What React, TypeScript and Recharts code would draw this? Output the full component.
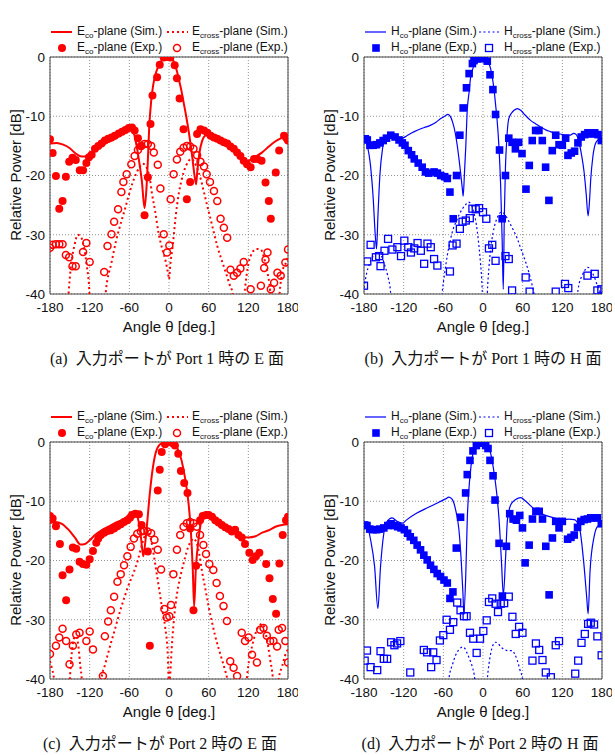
import {
  CartesianGrid,
  ComposedChart,
  Line,
  ReferenceArea,
  Scatter,
  XAxis,
  YAxis,
} from "recharts";

type Pt = [number, number];

const ANGLE_TICKS = [-180, -120, -60, 0, 60, 120, 180];
const DB_TICKS = [-40, -30, -20, -10, 0];

const RED = "#ff0000";
const BLUE = "#0000ff";
const SANS = "'Liberation Sans', Arial, sans-serif";
const SERIF = "'Liberation Serif', 'Noto Sans CJK JP', serif";

// ---- Port 1, E-plane ----
const aCoSim: Pt[] = [
  [-180, -14.6], [-170, -14.5], [-160, -14.8], [-150, -15.4], [-140, -16.4], [-132, -16.8],
  [-124, -16.7], [-117, -16.1], [-110, -15.5], [-102, -15], [-95, -14.5], [-87, -14.1],
  [-79, -13.6], [-71, -13], [-64, -12.3], [-59, -12], [-54, -12.6], [-49, -15], [-44, -18.5],
  [-41, -21], [-37, -25.5], [-34, -22], [-32, -17.5], [-30, -12], [-27, -7.5], [-24, -4.8],
  [-21, -3.2], [-17, -1.8], [-13, -0.9], [-8, -0.2], [-4, 0], [0, 0], [4, -0.2], [8, -1],
  [12, -2.4], [15, -3.8], [19, -5.8], [22, -7.6], [26, -10], [30, -12.7], [35, -16.7],
  [38, -19.5], [41, -21.5], [43, -19], [46, -16.2], [50, -14.2], [55, -13.2], [60, -13],
  [70, -13.5], [80, -14.2], [90, -15], [100, -16], [108, -16.8], [116, -17.5], [122, -17.4],
  [130, -16.9], [141, -16.1], [150, -15.2], [160, -14.3], [170, -13.7], [180, -13.3],
];
const aCrossSim: Pt[] = [
  [-155, -45], [-152, -40], [-148, -35], [-143, -31.8], [-138, -30], [-133, -30.4], [-128, -32.5],
  [-124, -35.5], [-121, -38.5], [-118, -45],
  [-100, -45], [-95, -39], [-87, -34.7], [-80, -31], [-74, -28.5], [-67, -25.8], [-61, -23.4],
  [-55, -21.2], [-49, -19.5], [-44, -18.5], [-40, -18], [-36, -18.2], [-33, -18.9], [-29, -20.5],
  [-26, -22.9], [-21, -26], [-16, -29.6], [-10, -32.5], [-5, -34.5], [-1, -36.8], [0, -37.5],
  [2, -35], [5.6, -31.9], [10, -27], [15, -22.9], [19, -20.8], [22, -19.5], [26, -18.3],
  [30, -17.5], [34, -17.2], [37, -17.5], [41, -18.3], [45, -19.5], [49, -21], [53, -22.9],
  [58, -25.2], [63, -27.4], [68, -29.7], [73, -31.9], [80, -34.4], [86, -36.4], [92, -38.5],
  [96, -39.8], [100, -45],
  [110, -45], [115, -39], [120, -35], [126, -33], [132, -32.4], [139, -32.5], [144, -34],
  [149, -36.4], [153, -39.5], [156, -45],
  [164, -45], [168, -39], [172, -36], [177, -34.7], [180, -33.6],
];
const aCoExp: Pt[] = [
  [-180, -13.9], [-176, -16.2], [-171, -20.1], [-166, -25.6], [-161, -24.3], [-156, -20.2],
  [-151, -17.7], [-146, -17], [-141, -17.4], [-135, -19.1], [-130, -19.1], [-125, -17.9],
  [-121, -16.9], [-117, -16.5], [-112, -15.5], [-107, -15], [-102, -14.6], [-97, -14.1],
  [-92, -13.8], [-87, -13.6], [-82, -13.3], [-76, -12.9], [-71, -12.6], [-66, -12.3],
  [-61, -12], [-56, -11.9], [-52, -12.4], [-47, -13.7], [-42.5, -15], [-37, -26.7],
  [-32, -20.3], [-28, -11.3], [-25, -6.5], [-18, -3.4], [-14, -1.3], [-8, -0.1], [-3, 0],
  [2, -0.1], [8.6, -1.4], [12, -3.6], [16, -7], [22, -12.2], [27, -24], [32, -21.1],
  [42.5, -13], [47.6, -12.2], [53, -12.4], [58, -12.8], [63, -13.3], [68, -13.6], [73, -13.8],
  [78, -14.1], [83, -14.4], [88, -14.6], [93, -15.1], [98, -15.5], [103, -16.1], [108, -16.7],
  [113, -17.5], [118, -18.1], [123.5, -18.6], [128.6, -17.2], [133.7, -17.2], [140, -17.5],
  [146, -21.2], [151, -24.3], [154, -27.3], [161.5, -19.5], [166.6, -15.8], [174, -13.3],
  [178, -13.7], [180, -14.1],
];
const aCrossExp: Pt[] = [
  [-180, -32.2], [-176, -31.7], [-171, -31.6], [-166, -31.6], [-161, -31.6], [-156, -33.4],
  [-151, -33.8], [-146, -35.3], [-141, -35.3], [-130, -32.9], [-125, -31.4], [-120, -34.6],
  [-98, -36.3], [-93, -31.9], [-87, -29.9], [-83, -27.8], [-77, -25.7], [-72, -22.8],
  [-69, -21.1], [-64, -19.8], [-57, -18.1], [-52, -16.7], [-47, -15.7], [-42, -15],
  [-37, -14.7], [-32, -14.7], [-27, -15], [-23, -16.1], [-17, -18.2], [-13, -22.2],
  [-8, -29.9], [-3, -33], [0.5, -31.8], [2.5, -24], [7, -19.8], [12, -17.3], [17, -16],
  [22, -15.3], [27, -15], [32, -15.1], [37, -15.5], [42.5, -16.6], [47.6, -17.7], [53, -18.5],
  [57, -19.8], [62, -21.1], [68, -22.6], [73, -24.3], [78, -27.3], [83, -28.8], [88, -30.5],
  [93, -35.9], [98, -36.9], [103, -36.4], [108, -35.7], [113, -34.6], [123.5, -39.2],
  [139, -38.6], [144, -35.6], [146, -34.2], [149, -33], [154, -39.2], [159, -38.1],
  [164, -36.4], [169, -36.9], [176, -34.7], [180, -32.5],
];

// ---- Port 1, H-plane ----
const bCoSim: Pt[] = [
  [-180, -13.8], [-175, -15], [-170, -18.5], [-166, -24], [-163, -30], [-161, -32.4],
  [-159, -27], [-156, -20], [-152, -15.5], [-148, -13.8], [-142, -13.2], [-135, -13.5],
  [-128, -13.8], [-120, -13.6], [-114, -13.2], [-104, -12.6], [-94, -12.1], [-86, -11.8],
  [-79, -11.5], [-71, -11], [-64, -10.4], [-58, -10], [-53, -9.7], [-49, -10.1], [-46, -11],
  [-42, -12.8], [-39, -14.9], [-36, -17.5], [-34, -19.4], [-31, -22.5], [-30, -23.5],
  [-28, -19.5], [-26, -15], [-24, -9.3], [-21, -5.9], [-19, -3.7], [-16, -2.2], [-13, -1.2],
  [-9, -0.5], [-5, -0.2], [0, -0.1], [4, -0.3], [8, -0.9], [11.6, -2], [14, -3.4],
  [16.6, -5.4], [19, -8], [21, -10.2], [24, -14.9], [26.7, -21.7], [29, -31], [30.7, -39.2],
  [32.2, -27], [34, -18.5], [36, -13.8], [39, -10.4], [43, -9.5], [47, -9], [52, -8.7],
  [57, -9], [62, -9.6], [72, -10.7], [80, -11.3], [87, -11.8], [95, -12.3], [102, -12.6],
  [110, -12.9], [117, -13], [125, -13.2], [132, -13.2], [137, -12.9], [141, -13.1],
  [145, -14.3], [149, -16.5], [153, -19.5], [156, -23], [159, -26.8], [161, -24.5],
  [163, -20.6], [166, -17], [168, -15.5], [173, -14.1], [180, -13.8],
];
const bCrossSim: Pt[] = [
  [-180, -39], [-176, -36.5], [-172, -35], [-166, -33.5], [-160, -33], [-154, -33.5],
  [-149, -35], [-144, -37], [-140, -39.5], [-137, -45],
  [-66, -45], [-62, -40], [-58, -36.5], [-54, -33.5], [-49, -30.7], [-45, -29], [-41, -27.9],
  [-36, -26.6], [-31, -25.6], [-26, -24.9], [-22, -24.5], [-18, -24.9], [-14, -26.2],
  [-10, -28.3], [-7, -31], [-4, -34.5], [-2, -37.5], [-1, -40], [0, -45],
  [5, -45], [6.5, -40], [9, -35.5], [11.6, -32.4], [15, -29.8], [19, -27.9], [23, -26.8],
  [27, -26.2], [32, -26.4], [37, -27.3], [44, -28.8], [52, -30.7], [58, -32.6], [64.5, -34.6],
  [70, -36.6], [74.5, -38.6], [77, -40], [79, -45],
  [140, -45], [143, -40], [146, -38], [150, -36.9], [154, -36], [158, -35.5], [162, -35.7],
  [165, -36.3], [169, -37.3], [173, -38.6], [178, -40], [180, -41],
];
const bCoExp: Pt[] = [
  [-178, -13.8], [-175, -14], [-171, -14.9], [-166, -14.9], [-161, -14.8], [-156, -14.5],
  [-151, -14.1], [-146, -13.7], [-139.5, -13.2], [-133, -13.5], [-127, -14], [-122, -14.5],
  [-118, -14.9], [-113, -15.8], [-108, -16.5], [-104, -17.2], [-98, -17.9], [-92, -18.6],
  [-87, -19.4], [-82, -19.6], [-74, -19.4], [-69, -19.6], [-64, -20], [-58, -20.2],
  [-54, -20.5], [-50, -22.8], [-45, -27.3], [-40, -20], [-35, -13.2], [-30, -8.6],
  [-25, -5.2], [-21, -2.8], [-16, -1.1], [-13.6, -0.6], [-8.6, -0.3], [-3.5, -0.3],
  [1.5, -0.2], [6.5, -0.7], [10.6, -3], [15, -5.5], [19, -9.7], [25, -15.7], [29, -27.3],
  [34, -20], [39, -13.7], [44, -14.4], [49, -15.5], [54, -14.4], [59, -16.3], [65, -22.3],
  [70, -18.3], [74.5, -14.1], [79.6, -12.4], [84.6, -12.4], [89.7, -14.1], [94.7, -18.6],
  [99.7, -24.2], [104.8, -15.8], [110, -13.2], [115, -14.8], [120, -14.9], [125, -13.7],
  [128.5, -16.6], [133.5, -16.2], [138.5, -15.9], [143.6, -14.5], [148.6, -13.5],
  [153.7, -13.1], [158.7, -12.8], [163.7, -13], [169, -12.8], [174, -13.1], [179, -14.1],
];
const bCrossExp: Pt[] = [
  [-180, -38.6], [-175, -34.5], [-170, -31.7], [-162, -33.8], [-157, -33.6], [-155, -35.3],
  [-149, -32.7], [-143.6, -30.7], [-137, -32.5], [-129.5, -32.1], [-124, -33.6], [-119, -31],
  [-113, -32.1], [-109, -33], [-104, -32.3], [-99, -31.4], [-94, -32.7], [-89, -34.9],
  [-84, -31.5], [-79, -32.1], [-74, -34.1], [-69, -35.2], [-50, -36.2], [-46, -31.8],
  [-40, -31.5], [-35, -29], [-31, -27.8], [-26, -27.6], [-20, -27.2], [-16, -25.6],
  [-11, -25.7], [-6, -25.5], [0, -26.2], [5, -27.3], [9, -32.3], [14, -31.7], [19, -34.4],
  [34, -33.6], [39, -34.1], [44, -39.4], [64.5, -37.2], [70.5, -39.6], [110, -39.6],
  [124, -38.3], [129, -39], [158, -36.9], [169, -36.6], [173, -39.4], [179, -39.2],
];

// ---- Port 2, E-plane ----
const cCoSim: Pt[] = [
  [-180, -13.7], [-172, -13.5], [-162, -13.8], [-152, -14.8], [-142, -16.2], [-134, -17.3],
  [-127, -17.2], [-120, -16.6], [-112, -15.7], [-102, -14.9], [-92, -14.3], [-82, -13.7],
  [-72, -13.2], [-62, -12.6], [-54, -12.2], [-49, -12.4], [-45, -14], [-42, -16.5],
  [-39, -19.3], [-37, -18], [-34, -14.9], [-30, -9.8], [-25, -4.8], [-19, -1.4], [-11, -0.2],
  [-4, 0], [4, 0], [11.6, -0.8], [19, -3.1], [24, -5.9], [29, -9.8], [33, -14.9], [36, -21.6],
  [38, -27.8], [40.5, -21.6], [44.6, -16.5], [48.6, -13.5], [53.7, -12.3], [60, -12.3],
  [70, -12.9], [80, -13.7], [90, -14.6], [100, -15.4], [110, -16], [120, -16.1], [131, -15.9],
  [141, -15.3], [151, -14.9], [161, -14.3], [171, -14], [180, -13.9],
];
const cCrossSim: Pt[] = [
  [-180, -37], [-177, -38.3], [-174, -40], [-172, -45],
  [-153, -45], [-150, -40], [-147, -35.5], [-143, -33], [-140, -32.8], [-137, -34.5],
  [-134, -38], [-132, -40], [-130, -45],
  [-106, -45], [-102, -39.8], [-97, -37.7], [-92, -35.6], [-87, -33.6], [-82, -31.7],
  [-77, -29.7], [-72, -27.8], [-67, -26.1], [-62, -24.4], [-54, -22.2], [-47, -19.9],
  [-41, -17.3], [-36, -15.7], [-32.4, -15.1], [-29, -15.8], [-26, -17.1], [-21, -20.5],
  [-14, -25.5], [-10, -28.4], [-6, -31.1], [-2, -35.6], [0, -41], [2, -39], [4, -35],
  [6.6, -31.1], [10, -27.3], [14, -24.4], [18, -22.3], [22, -20.5], [26, -18.8], [29, -17.7],
  [33, -16.8], [37, -16.3], [40, -16.6], [42, -17.1], [46, -19], [49.6, -21.6], [55, -24.8],
  [60, -27.8], [65, -30.4], [70, -32.8], [75, -34.8], [80, -36.7], [85, -38.6], [87.6, -39.8],
  [90, -45],
  [115, -45], [118, -39.8], [121, -37], [125.6, -34.5], [130, -32.6], [135.7, -31.1],
  [141, -30.7], [146, -32.2], [150, -34.5], [153, -36.7], [157, -39.8], [160, -45],
  [164, -45], [166, -40], [171, -37.9], [177, -35.6], [180, -35],
];
const cCoExp: Pt[] = [
  [-180, -12.5], [-176, -12.9], [-171, -14.2], [-165, -17.2], [-161, -22.5], [-155.6, -26.7],
  [-150.5, -21.5], [-145.4, -17.8], [-140.3, -18], [-135.3, -20.2], [-130.2, -20.6],
  [-125, -20.7], [-120, -19.8], [-115, -18.4], [-110, -17], [-107, -16.3], [-103, -15.7],
  [-98, -15.3], [-93, -15], [-88, -14.9], [-83, -14.6], [-78, -14.2], [-73, -13.9],
  [-68, -13.5], [-63, -13.2], [-59, -12.8], [-56, -12.3], [-51, -12.1], [-45.6, -12.2],
  [-41.5, -14], [-32, -18.5], [-29, -34.4], [-17, -8.2], [-14, -4.7], [-11, -1.7], [-6, -0.4],
  [0, 0], [5.6, -0.2], [9, -0.6], [14, -2], [18, -4.9], [23, -6.9], [28, -8.6], [32, -14.6],
  [37, -28.4], [41, -20.9], [47, -13.2], [51, -12.5], [56, -12.3], [60, -12.3], [65, -12.6],
  [70, -13.2], [75, -13.6], [80, -14], [85, -14.4], [90, -14.7], [95, -15.1], [100, -14.8],
  [105, -15.7], [110, -16.1], [115, -17.2], [121.5, -18.7], [126.6, -19.9], [131.6, -19.3],
  [136.7, -18.7], [147, -20.6], [152, -23], [157, -26.5], [162, -29], [167, -20.5],
  [172, -15.7], [177, -13.2], [180, -12.6],
];
const cCrossExp: Pt[] = [
  [-180, -35.8], [-171, -34.4], [-166, -33], [-161, -31.5], [-155.6, -33.6], [-150.5, -37.5],
  [-145.4, -34.4], [-140.3, -32.5], [-135.3, -32.2], [-125, -33.6], [-120, -32], [-115, -35],
  [-100, -39.5], [-97, -32.8], [-92, -30.3], [-88, -28.4], [-83, -26.1], [-78, -23.6],
  [-73, -22.3], [-68, -20.8], [-63, -19.3], [-58, -17.7], [-53, -16.3], [-48, -15.5],
  [-42.5, -15.1], [-37.5, -15], [-32.4, -15.1], [-27, -15.4], [-22, -16.5], [-17, -18.2],
  [-12, -21.5], [-7, -28.2], [-3.5, -29.6], [0.5, -29.4], [3, -27.5], [6.6, -22.3],
  [12, -18.2], [17, -15.7], [22, -14.3], [27, -13.7], [32, -13.5], [37, -13.7], [42, -14.3],
  [47, -15.7], [52, -17.4], [56, -18.9], [61, -20.6], [67, -21.6], [72, -23.8], [77, -26],
  [82.5, -27.7], [87.6, -30.2], [92.6, -37], [97.7, -38.1], [103, -39.5], [110, -32.2],
  [115, -33.6], [120.5, -33], [125.6, -35.9], [133, -37.2], [138, -31.7], [143, -31.4],
  [148, -32.7], [153, -33.6], [158, -33.6], [163.5, -34.5], [166, -31.7], [171, -31.4],
  [176, -33.6], [180, -37.2],
];

// ---- Port 2, H-plane ----
const dCoSim: Pt[] = [
  [-180, -13.7], [-175.5, -14.1], [-170, -16.5], [-164, -21], [-159, -28.1], [-155, -21],
  [-150, -15.4], [-145, -13.4], [-137.5, -12.8], [-130, -13.4], [-122, -13.7], [-115, -13.1],
  [-100, -12], [-84, -11.1], [-69, -10.3], [-56.6, -9.6], [-51.6, -9.3], [-46.5, -9.7],
  [-41.5, -11.4], [-36.4, -14.8], [-33, -19.9], [-30.3, -25.6], [-29, -29], [-26, -22.2],
  [-23.8, -13.1], [-19.7, -5.8], [-16, -2.4], [-11, -0.7], [-6, -0.2], [0, -0.1], [5.6, -0.4],
  [10.6, -1.5], [15.7, -4.4], [20.7, -8.6], [24.3, -13.1], [27.8, -19.9], [30.8, -25.8],
  [34, -19.9], [37, -13.1], [42, -10.6], [49.5, -9.7], [57, -9.4], [64.7, -10], [77.4, -11.3],
  [92.5, -12.3], [107.7, -12.8], [123, -13.1], [130, -13], [138, -13.1], [145.6, -14.3],
  [152, -19.9], [157, -26.4], [159, -29], [162, -21.6], [168, -16], [173, -14.3], [180, -13.8],
];
const dCrossSim: Pt[] = [
  [-55, -45], [-51.6, -40], [-46, -37.5], [-41.5, -36], [-36, -35], [-31, -34.6], [-27, -34.9],
  [-23.8, -35.7], [-19, -37], [-16, -38], [-12.6, -40], [-10, -45],
  [4, -45], [6.6, -40], [9, -37.5], [11.6, -35.7], [15, -34.3], [19, -33.8], [23, -34],
  [27, -34.6], [32, -35], [37, -35.2], [44.5, -35.2], [48, -35.8], [52, -36.9], [56, -38.5],
  [59.7, -40], [62, -45],
];
const dCoExp: Pt[] = [
  [-179, -14], [-175.5, -14.1], [-171.4, -14.7], [-166.3, -14.8], [-161, -14.8], [-156, -14.7],
  [-150, -14.5], [-144, -14.1], [-139, -13.8], [-134, -14.1], [-129, -14.3], [-124, -14.5],
  [-119, -14.8], [-114, -15.4], [-110, -16], [-104.7, -16.6], [-99.6, -17.4], [-94.5, -18.2],
  [-89.5, -19.1], [-84.4, -19.9], [-79.4, -20.8], [-74.3, -21.5], [-69.3, -22.2],
  [-64.2, -22.7], [-59, -23.3], [-54, -23.8], [-50, -26.4], [-45.5, -25.3], [-40.4, -17.9],
  [-33.9, -12.7], [-26.3, -8.6], [-23.8, -5.5], [-19.7, -3.1], [-15.2, -1.5], [-10, -0.6],
  [-5, -0.2], [0, -0.1], [4, -0.6], [7.6, -1.1], [10.6, -3.1], [15.2, -5.7], [18.2, -9.8],
  [24.3, -17.1], [29.3, -26], [35.4, -17.6], [40.4, -12.1], [45.5, -13], [50.6, -13.2],
  [55.6, -12.4], [59.7, -14.5], [63.7, -20.4], [69.8, -17.4], [74.8, -13], [80, -11.7],
  [85, -11.7], [90, -13], [95, -17.6], [100, -25.8], [105, -16.2], [110, -13.4], [115, -14.5],
  [120, -13.4], [128, -16.4], [133, -16.1], [138, -15.7], [143, -14.4], [148, -13.4],
  [153, -13.1], [158, -13], [163, -12.8], [168, -12.8], [173, -12.8], [179, -13.8],
];
const dCrossExp: Pt[] = [
  [-179, -36.9], [-175.5, -35.2], [-170, -38], [-160, -38.5], [-155, -35.3], [-150, -36.6],
  [-145, -36.6], [-139, -33.8], [-134, -34.3], [-130, -34], [-125, -33.6], [-110, -38.9],
  [-89.5, -35.1], [-84.4, -35.5], [-78.4, -38], [-75.3, -35.5], [-70.3, -36.8],
  [-65.2, -33.5], [-60, -32.6], [-55, -30], [-50, -31.7], [-45, -30.4], [-39, -27.1],
  [-34, -28.4], [-28.8, -29.4], [-24.8, -29.4], [-19.7, -32.2], [-14.7, -33.2], [-9.6, -35.6],
  [-4.5, -33.2], [0.5, -31.9], [5.6, -30.1], [9, -27], [14, -26.4], [19, -27.3], [22.7, -28.7],
  [26.8, -27.3], [32, -27.2], [39, -26.1], [44.5, -29.5], [49.5, -32.4], [54.6, -31.2],
  [59.7, -32.2], [74.8, -36.9], [80, -34], [85, -35.1], [90, -36.8], [95, -38.9],
  [102.6, -39.7], [110, -34.3], [115, -33.6], [139.5, -39.1], [144, -36.9], [149, -33.9],
  [154, -32.4], [159, -30.7], [163, -30.5], [168, -30.8], [173, -32.8], [179.5, -36],
];

const toRows = (pts: Pt[]) => pts.map(([a, v]) => ({ a, v }));

type Kind = "circle" | "square";

function markerShape(kind: Kind, filled: boolean, color: string) {
  return (p: any) => {
    const { cx, cy } = p;
    if (cx == null || cy == null) return <g />;
    if (kind === "circle") {
      return filled ? (
        <circle cx={cx} cy={cy} r={4} fill={color} />
      ) : (
        <circle cx={cx} cy={cy} r={3.5} fill="none" stroke={color} strokeWidth={1.5} />
      );
    }
    const s = filled ? 7.6 : 7;
    return filled ? (
      <rect x={cx - s / 2} y={cy - s / 2} width={s} height={s} fill={color} />
    ) : (
      <rect x={cx - s / 2} y={cy - s / 2} width={s} height={s} fill="none" stroke={color} strokeWidth={1.3} />
    );
  };
}

function Sample({ color, width, dash }: { color: string; width?: number; dash?: string }) {
  return (
    <svg width={22} height={10} style={{ display: "block" }}>
      <line x1={0} x2={21} y1={5} y2={5} stroke={color} strokeWidth={width} strokeDasharray={dash} />
    </svg>
  );
}

function Mark({ kind, filled, color }: { kind: Kind; filled: boolean; color: string }) {
  const shape = markerShape(kind, filled, color);
  return (
    <svg width={10} height={10} style={{ display: "block" }}>
      {shape({ cx: 5, cy: 5 })}
    </svg>
  );
}

function Name({ p, sub, tail }: { p: string; sub: string; tail: string }) {
  return (
    <span>
      {p}
      <span style={{ fontSize: 8, position: "relative", top: 3 }}>{sub}</span>
      {tail}
    </span>
  );
}

interface PanelProps {
  left: number; // plot area left edge
  top: number; // plot area top edge
  color: string;
  kind: Kind;
  plane: string;
  lineWidth: number;
  dash: string;
  col2: number;
  captionX: number;
  caption: string;
  coSim: Pt[];
  crossSim: Pt[];
  coExp: Pt[];
  crossExp: Pt[];
}

const PW = 238;
const PH = 237;

function Panel(props: PanelProps) {
  const { left, top, color, kind, plane, lineWidth, dash, col2, captionX, caption } = props;
  const text = { position: "absolute" as const, fontFamily: SANS, fontSize: 12, color: "#111", whiteSpace: "nowrap" as const, lineHeight: "14px" };
  const row1 = top - 25.5;
  const row2 = top - 9.5;
  const at = (x: number, y: number) => ({ position: "absolute" as const, left: x, top: y, transform: "translateY(-50%)" });

  return (
    <>
      {/* legend */}
      <div style={at(left + 1, row1)}>
        <Sample color={color} width={lineWidth} />
      </div>
      <div style={{ ...text, ...at(left + 27, row1) }}>
        <Name p={plane} sub="co" tail="-plane (Sim.)" />
      </div>
      <div style={at(left + col2 - 25, row1)}>
        <Sample color={color} width={lineWidth} dash={dash} />
      </div>
      <div style={{ ...text, ...at(left + col2, row1) }}>
        <Name p={plane} sub="cross" tail="-plane (Sim.)" />
      </div>
      <div style={at(left + 7, row2)}>
        <Mark kind={kind} filled color={color} />
      </div>
      <div style={{ ...text, ...at(left + 27, row2) }}>
        <Name p={plane} sub="co" tail="-plane (Exp.)" />
      </div>
      <div style={at(left + col2 - 20, row2)}>
        <Mark kind={kind} filled={false} color={color} />
      </div>
      <div style={{ ...text, ...at(left + col2, row2) }}>
        <Name p={plane} sub="cross" tail="-plane (Exp.)" />
      </div>

      <div style={{ position: "absolute", left: left - 50, top: top - 10 }}>
        <ComposedChart width={50 + PW + 10} height={10 + PH + 30} margin={{ top: 10, right: 10, left: 0, bottom: 0 }}>
          <CartesianGrid stroke="#777" strokeDasharray="1 2" strokeWidth={0.8} />
          <XAxis
            type="number"
            dataKey="a"
            domain={[-180, 180]}
            ticks={ANGLE_TICKS}
            interval={0}
            allowDataOverflow
            axisLine={false}
            tickLine={false}
            tickSize={0}
            tickMargin={8}
            height={30}
            tick={{ fontSize: 13.5, fill: "#111", fontFamily: SANS }}
          />
          <YAxis
            type="number"
            dataKey="v"
            domain={[-40, 0]}
            ticks={DB_TICKS}
            interval={0}
            allowDataOverflow
            axisLine={false}
            tickLine={false}
            tickSize={0}
            tickMargin={5}
            width={50}
            tick={{ fontSize: 13.5, fill: "#111", fontFamily: SANS }}
          />
          <ReferenceArea x1={-180} x2={180} y1={-40} y2={0} fill="none" fillOpacity={0} stroke="#444" strokeWidth={1} />
          <Line
            data={toRows(props.crossSim)}
            dataKey="v"
            type="monotone"
            stroke={color}
            strokeWidth={lineWidth}
            strokeDasharray={dash}
            dot={false}
            isAnimationActive={false}
          />
          <Line
            data={toRows(props.coSim)}
            dataKey="v"
            type="monotone"
            stroke={color}
            strokeWidth={lineWidth}
            dot={false}
            isAnimationActive={false}
          />
          <Scatter data={toRows(props.crossExp)} shape={markerShape(kind, false, color)} isAnimationActive={false} />
          <Scatter data={toRows(props.coExp)} shape={markerShape(kind, true, color)} isAnimationActive={false} />
        </ComposedChart>
      </div>

      {/* axis titles and caption */}
      <div
        style={{
          position: "absolute",
          left: left - 35,
          top: top + PH / 2 - 1,
          transform: "translate(-50%, -50%) rotate(-90deg)",
          fontFamily: SANS,
          fontSize: 15,
          color: "#111",
          whiteSpace: "nowrap",
        }}
      >
        Relative Power [dB]
      </div>
      <div
        style={{
          position: "absolute",
          left: left + PW / 2,
          top: top + PH + 32,
          transform: "translate(-50%, -50%)",
          fontFamily: SANS,
          fontSize: 15,
          color: "#111",
          whiteSpace: "nowrap",
        }}
      >
        Angle θ [deg.]
      </div>
      <div
        style={{
          position: "absolute",
          left: captionX,
          top: top + PH + 63,
          transform: "translate(-50%, -50%)",
          fontFamily: SERIF,
          fontSize: 16,
          color: "#111",
          whiteSpace: "pre",
        }}
      >
        {caption}
      </div>
    </>
  );
}

export default function App() {
  return (
    <div style={{ position: "absolute", left: 0, top: 0, width: 615, height: 755, background: "#fff", overflow: "hidden" }}>
      <Panel
        left={50}
        top={57}
        color={RED}
        kind="circle"
        plane="E"
        lineWidth={2}
        dash="2 3"
        col2={142}
        captionX={167}
        caption="(a)  入力ポートが Port 1 時の E 面"
        coSim={aCoSim}
        crossSim={aCrossSim}
        coExp={aCoExp}
        crossExp={aCrossExp}
      />
      <Panel
        left={364}
        top={57}
        color={BLUE}
        kind="square"
        plane="H"
        lineWidth={1.2}
        dash="2 2.5"
        col2={140}
        captionX={483}
        caption="(b)  入力ポートが Port 1 時の H 面"
        coSim={bCoSim}
        crossSim={bCrossSim}
        coExp={bCoExp}
        crossExp={bCrossExp}
      />
      <Panel
        left={50}
        top={442}
        color={RED}
        kind="circle"
        plane="E"
        lineWidth={2}
        dash="2 3"
        col2={142}
        captionX={160}
        caption="(c)  入力ポートが Port 2 時の E 面"
        coSim={cCoSim}
        crossSim={cCrossSim}
        coExp={cCoExp}
        crossExp={cCrossExp}
      />
      <Panel
        left={364}
        top={442}
        color={BLUE}
        kind="square"
        plane="H"
        lineWidth={1.2}
        dash="2 2.5"
        col2={140}
        captionX={480}
        caption="(d)  入力ポートが Port 2 時の H 面"
        coSim={dCoSim}
        crossSim={dCrossSim}
        coExp={dCoExp}
        crossExp={dCrossExp}
      />
    </div>
  );
}
